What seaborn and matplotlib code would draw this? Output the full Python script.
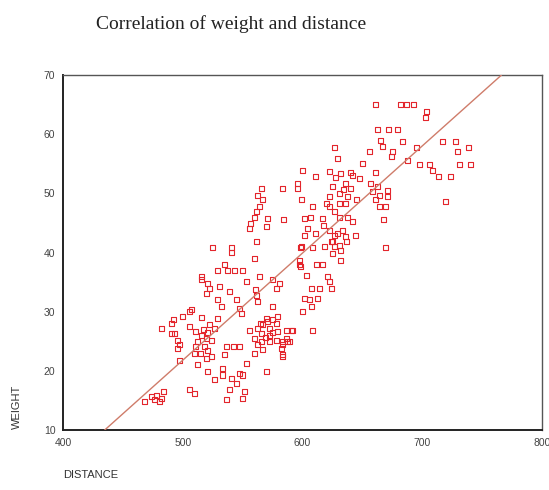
import numpy as np
import pandas as pd
import matplotlib
matplotlib.use("Agg")
import matplotlib.pyplot as plt
import seaborn as sns

# points, grouped by region (distance, weight)
upper_right = [
    (661, 65), (682, 65), (687, 65), (693, 65), (704, 63.8), (702.5, 62.8),
    (663, 60.8), (672, 60.8), (679, 60.8), (665, 59), (667, 58), (683.6, 58.8),
    (695, 57.7), (717, 58.8), (728, 58.8), (729.5, 57), (739, 57.7),
    (626.6, 57.7), (656, 57), (675, 57), (674, 56.2), (688, 55.6), (629, 55.9),
    (650, 55), (697.5, 54.9), (706, 54.9), (731, 54.9), (740.5, 54.9),
    (708.6, 53.9), (714, 52.8), (724, 52.8), (719.7, 48.7),
]
upper_mid = [
    (600, 53.9), (611, 52.8), (622.5, 53.7), (632, 53.4), (640.5, 53.6), (661, 53.6),
    (583.6, 50.8), (596, 51.7), (596, 50.8), (625, 51.1), (636, 51.7), (640.5, 50.8),
    (647.5, 52.5), (657, 51.7), (663, 51.1), (622.5, 49.4), (631, 50), (637.7, 49.4),
    (658.6, 50.3), (664, 49.7), (671, 50.5), (671, 49.4), (599, 48.9), (608.5, 47.7),
    (622.5, 47.7), (631, 48.3), (661, 48.9), (664, 47.7), (584, 45.6), (601.6, 45.8),
    (607, 46), (617, 45.8), (631, 46), (638, 46), (642, 45.2), (668, 45.6),
    (604.4, 44), (611, 43.2), (622.5, 43.8), (629.4, 43.2), (636, 42.7), (644.7, 42.9),
    (599, 41.1), (608.5, 40.9), (624, 41.8), (631, 41.2), (669.7, 40.9),
    (619.7, 48.3), (636, 48.3), (669.7, 47.7), (626.7, 42.9), (633.6, 43.8),
    (625.3, 41.8), (636.4, 41.8), (618.3, 41), (626.7, 41), (632, 40.4),
    (628, 52.6), (634, 50.6), (627, 47), (618, 44.6), (642, 53), (645, 49),
]
mid_right = [
    (625.3, 39.8), (632.2, 38.7), (611.4, 37.9), (617, 37.9), (603, 36.2), (621, 35.9),
    (622.5, 35.1), (607.2, 33.9), (614.2, 33.9), (624, 33.9), (601.7, 32.2), (605.8, 32),
    (612.8, 32.2), (607.2, 30.8), (597.5, 37.9), (600.2, 30), (580.8, 34.8),
    (586.4, 26.9), (590.5, 26.9), (608.6, 26.9), (583.6, 24.9), (587.7, 24.9),
    (582.2, 23.8), (583.6, 22.4),
]
upper_left = [
    (565.5, 50.8), (562.7, 49.7), (567, 48.9), (564, 47.7), (561.4, 46.9), (560, 46),
    (557, 44.9), (556, 44), (571, 45.7), (569.7, 44.4), (524.7, 40.9), (540.5, 40.9),
    (540.5, 40), (561.4, 41.8), (560, 39), (602, 42.9), (598, 40.9), (597.5, 38.7),
    (598, 37.6), (535, 37.9), (529, 36.9), (537.7, 36.9), (543, 36.9), (550, 36.9),
    (515.5, 35.9), (564, 35.9),
]
middle = [
    (515.5, 35.4), (521, 34.8), (522.5, 33.9), (531, 34.2), (539, 33.4), (553, 35.1),
    (561, 33.7), (575, 35.4), (578, 34), (519.7, 33.1), (529.4, 32), (532, 30.9),
    (544.7, 32), (547.5, 30.6), (549, 29.7), (561.4, 32.8), (562.7, 31.7),
    (505.8, 30), (500, 29.2), (515.5, 29), (529.4, 28.9), (522.5, 27.8), (526.6, 27.2),
    (575, 30.9), (565, 28), (569.7, 28.9), (572.5, 27.2), (579.4, 29.2), (578, 28),
    (482, 27.2), (490.5, 28), (505.8, 27.5), (492, 28.6), (507, 30.4),
    (493, 26.3), (496, 25.2), (511, 26.6), (515.5, 26), (519.7, 25.5), (512.7, 25),
    (523.8, 25.2), (518, 24.1), (511, 24.1), (521, 23.5), (497.5, 24.4), (523.8, 22.4),
    (510, 23), (519.7, 22.1), (536.3, 24.1), (542, 24.1), (547.5, 24.1), (535, 22.7),
    (497.5, 21.7), (490.5, 26.3), (496, 23.8), (517, 27), (521, 26.4), (515, 23),
    (555.8, 26.9), (562.7, 27.2), (567, 27.8), (571, 28.3), (575, 28.6), (565.5, 26.3),
    (572.5, 26), (579.4, 26.6), (592, 26.9), (560, 25.5), (565.5, 24.9), (572.5, 24.9),
    (578, 25.2), (583.6, 24.4), (586.4, 25.5), (589, 24.9), (560, 23), (562.7, 24.4),
    (583.6, 22.7), (569, 25.6), (575, 26.5), (567, 23.6),
]
lower = [
    (512.7, 21), (521, 19.9), (533.6, 20.4), (526.6, 18.5), (533.6, 19.3), (540.5, 18.7),
    (547.5, 19.6), (544.7, 17.9), (550, 19.3), (539, 16.8), (551.6, 16.5), (536.3, 15.1),
    (550, 15.4), (553, 21.3), (569.7, 19.9), (505.8, 16.8), (510, 16.2),
    (468.3, 14.8), (473.8, 15.6), (478, 15.9), (482, 15.4), (480.8, 14.8), (483.6, 16.5),
    (476.6, 15.1),
]

# fitted line as drawn in the reference (weight = intercept + slope * distance)
fit_intercept = -68.7
fit_slope = 0.181

points = upper_right + upper_mid + mid_right + upper_left + middle + lower
df = pd.DataFrame(points, columns=["DISTANCE", "WEIGHT"])

x_ticks = [400, 500, 600, 700, 800]
y_ticks = [10, 20, 30, 40, 50, 60, 70]

sns.set_style("white")
plt.rcParams["font.family"] = ["Liberation Sans", "DejaVu Sans"]

fig = plt.figure(figsize=(5.49, 4.90), dpi=100)
ax = fig.add_axes([0.1148, 0.1224, 0.8722, 0.7245])

sns.scatterplot(data=df, x="DISTANCE", y="WEIGHT", ax=ax, marker="s", s=13,
                facecolor="none", edgecolor="#e3252c", linewidth=0.8, zorder=2)
ax.axline((0, fit_intercept), slope=fit_slope, color="#cf7c6a", lw=1.0, zorder=3)
ax.set_xlim(400, 800)
ax.set_ylim(10, 70)

ax.set_xticks(x_ticks)
ax.set_yticks(y_ticks)
ax.tick_params(direction="out", length=2.5, width=1.5, color="#222222",
               labelsize=7.5, labelcolor="#444444", pad=3)
for side in ["left", "bottom"]:
    ax.spines[side].set_color("#222222")
    ax.spines[side].set_linewidth(1.4)
for side in ["top", "right"]:
    ax.spines[side].set_color("#555555")
    ax.spines[side].set_linewidth(1.0)

ax.set_xlabel("")
ax.set_ylabel("")
fig.text(0.115, 0.02, "DISTANCE", fontsize=8, color="#333333", ha="left", va="bottom")
fig.text(0.03, 0.125, "WEIGHT", fontsize=8, color="#333333", rotation=90,
         ha="center", va="bottom")
fig.text(0.42, 0.941, "Correlation of weight and distance", fontsize=14,
         family=["Liberation Serif", "DejaVu Serif"], color="#222222",
         ha="center", va="baseline")

fig.savefig("out.png", dpi=100)
